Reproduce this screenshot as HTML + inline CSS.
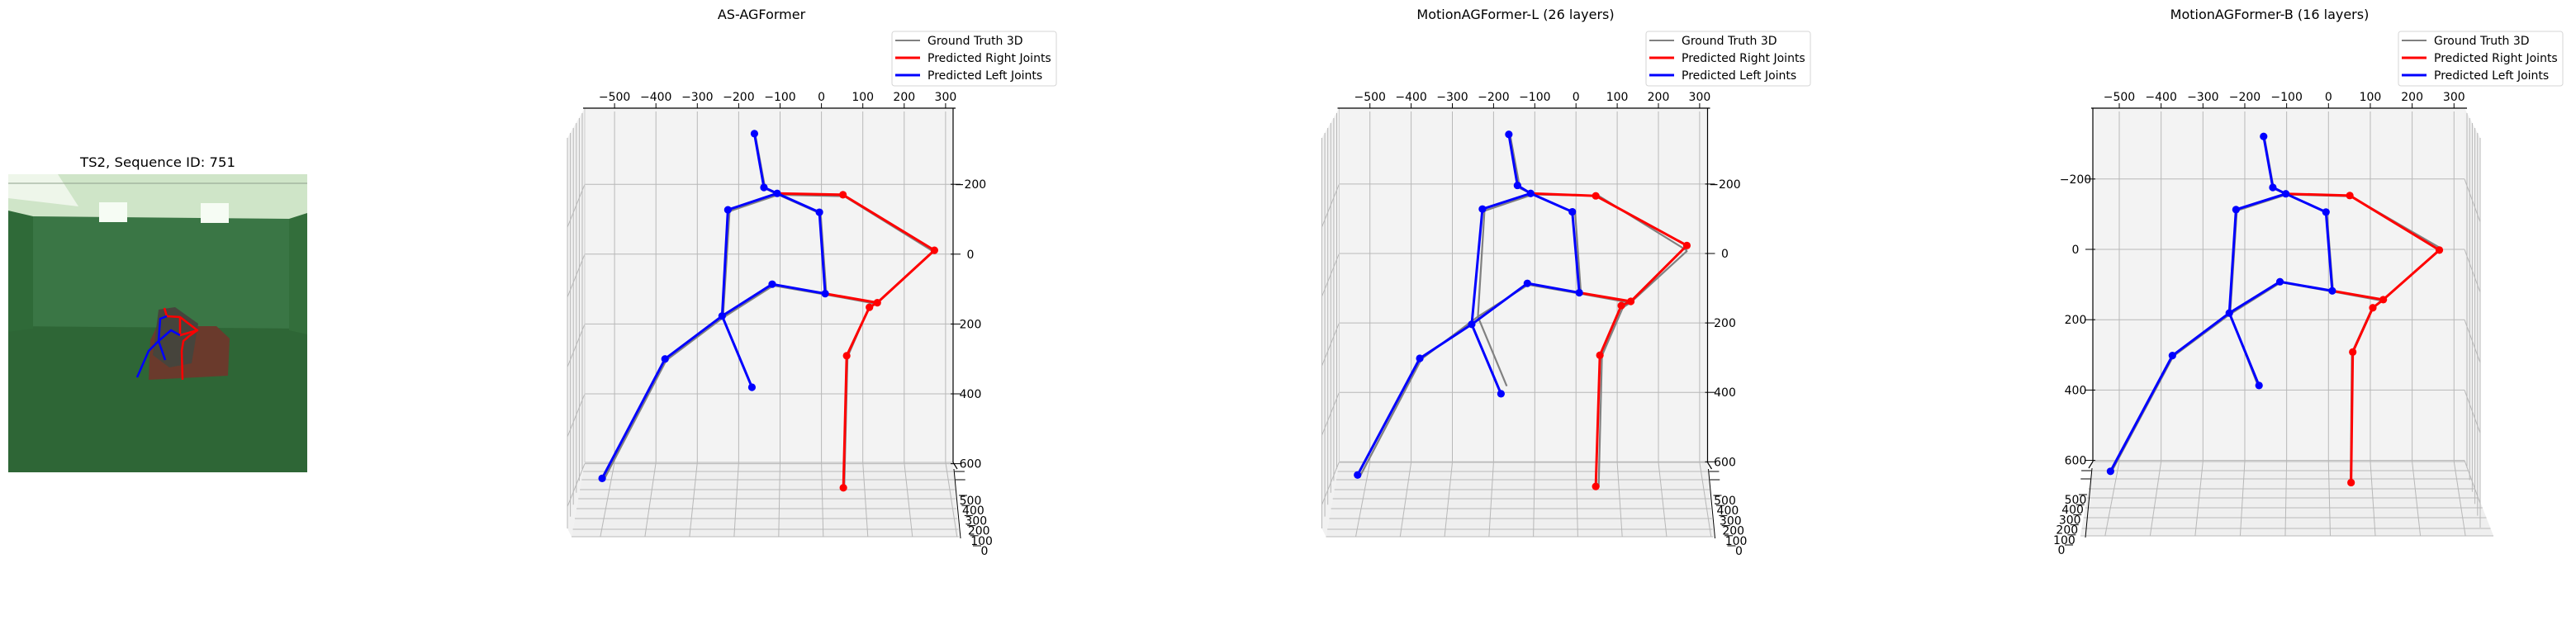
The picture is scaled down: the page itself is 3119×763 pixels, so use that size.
<!DOCTYPE html>
<html><head><meta charset="utf-8"><style>
html,body{margin:0;padding:0;background:#fff;}
svg{display:block;font-family:"DejaVu Sans","Liberation Sans",sans-serif;}
</style></head><body>
<svg id="fig" width="3119" height="763" viewBox="0 0 3119 763" xmlns="http://www.w3.org/2000/svg">
<g id="photo">
<text x="191" y="202" font-size="16" text-anchor="middle" textLength="188" lengthAdjust="spacingAndGlyphs">TS2, Sequence ID: 751</text>
<rect x="10" y="211" width="362" height="361" fill="#356f3e"/>
<polygon points="40,262 350,265 350,400 40,398" fill="#3a7645"/>
<polygon points="10,395 372,398 372,572 10,572" fill="#2e6636"/>
<polygon points="10,255 40,262 40,398 10,402" fill="#2f6a38"/>
<polygon points="350,265 372,258 372,405 350,400" fill="#336e3b"/>
<polygon points="10,211 372,211 372,258 350,265 40,262 10,255" fill="#cfe5c8"/>
<polygon points="10,211 70,211 95,250 10,240" fill="#eef6ea"/>
<rect x="120" y="245" width="34" height="24" fill="#f6fcf4"/>
<rect x="243" y="246" width="34" height="24" fill="#f6fcf4"/>
<line x1="10" y1="222" x2="372" y2="222" stroke="#8fa08c" stroke-width="1"/>
<polygon points="182,412 190,395 262,395 278,410 276,455 180,460" fill="#6a3a2c"/>
<polygon points="192,375 212,372 240,392 232,440 205,445 185,430" fill="#46443c"/>
<g fill="none" stroke-width="2.5" stroke-linejoin="round">
<polyline stroke="#ff0000" points="199,373 202,383 218,384 239,400 229,407"/>
<polyline stroke="#ff0000" points="218,384 218,406 239,400"/>
<polyline stroke="#ff0000" points="229,407 222,413 220,425 221,460"/>
<polyline stroke="#0000ff" points="202,383 194,386 192,413"/>
<polyline stroke="#0000ff" points="192,413 207,400 218,406"/>
<polyline stroke="#0000ff" points="192,413 180,425 166,457"/>
<polyline stroke="#0000ff" points="192,413 200,436"/>
</g>
</g>
<g id="panels"></g>
</svg>
<script>
// Skeleton data (X horizontal mm, Y vertical mm with down positive as plotted)
const bonesLeft = [[0,1],[1,2],[2,3],[3,4],[2,5],[5,6],[6,7],[7,4],[4,8],[8,9],[4,10]];
const bonesRight = [[2,11],[11,12],[12,13],[6,13],[13,14],[14,15],[15,16]];
const gtX = [-160,-136,-104,-222,-238,-2,12,-116,-375,-526,-168,55,270,132,114,63,55];
const gtY = [-342,-188,-170,-123,182,-116,116,90,304,646,382,-166,-8,142,155,294,672];
const gt3X = [-153,-131,-100,-219,-235,-4,11,-114,-371,-519,-170,53,270,128,104,56,53];
const gt3Y = [-318,-173,-156,-110,184,-104,120,94,304,633,383,-151,-2,146,168,294,666];
const p1X = [-162,-139,-107,-226,-240,-5,9,-119,-378,-530,-168,52,273,135,116,61,53];
const p1Y = [-345,-191,-174,-127,177,-120,113,86,300,642,381,-170,-11,139,152,291,669];
const p2X = [-163,-142,-110,-227,-253,-9,8,-118,-379,-530,-182,48,269,133,110,58,48];
const p2Y = [-343,-196,-173,-128,204,-120,113,86,302,638,404,-166,-23,138,150,293,671];
const p3X = [-155,-133,-102,-221,-237,-6,9,-116,-373,-521,-166,51,265,131,106,58,54];
const p3Y = [-321,-176,-158,-113,181,-106,118,92,302,631,387,-153,2,143,166,292,663];
const xTicks = [-500,-400,-300,-200,-100,0,100,200,300];
const yTicks = [-200,0,200,400,600];
const zTicks = ['500','400','300','200','100','0'];
const titles = ['AS-AGFormer','MotionAGFormer-L (26 layers)','MotionAGFormer-B (16 layers)'];
const legendLabels = ['Ground Truth 3D','Predicted Right Joints','Predicted Left Joints'];

const NS='http://www.w3.org/2000/svg';
const root=document.getElementById('panels');
function mk(tag,attrs,parent){const e=document.createElementNS(NS,tag);for(const k in attrs)e.setAttribute(k,attrs[k]);(parent||root).appendChild(e);return e;}

const geoms=[
 {L:708,R:1154,T:131,B:560,FB:650,FL:692,FR:1161,side:'left',outer:687,x0:994.6,sx:0.501,y0:307.8,sy:0.423,title:922,leg:1080},
 {L:1621.5,R:2067.5,T:131,B:560,FB:650,FL:1605.5,FR:2074.5,side:'left',outer:1600.5,x0:1908.2,sx:0.499,y0:307,sy:0.4205,title:1835,leg:1993},
 {L:2534,R:2984,T:131,B:559,FB:649,FL:2519,FR:3019,side:'right',outer:3003,x0:2819.3,sx:0.5066,y0:302,sy:0.426,title:2748,leg:2904}
];
const preds=[[p1X,p1Y],[p2X,p2Y],[p3X,p3Y]];
const gts=[[gtX,gtY],[gtX,gtY],[gt3X,gt3Y]];

geoms.forEach((g,pi)=>{
 const G=mk('g',{});
 
 
 const px=x=>g.x0+x*g.sx, py=y=>g.y0+y*g.sy;
 const grid='#b8b8b8';
 const backWall=mk('rect',{x:g.L,y:g.T,width:g.R-g.L,height:g.B-g.T,fill:'#f3f3f3'},G);
 
 
 let sidePts;
 if(g.side==='left') sidePts=`${g.L},${g.T} ${g.outer},${g.T+36} ${g.outer},${g.FB-10} ${g.FL},${g.FB} ${g.L},${g.B}`;
 else sidePts=`${g.R},${g.T} ${g.outer},${g.T+36} ${g.outer},${g.FB-10} ${g.FR},${g.FB} ${g.R},${g.B}`;
 const side=mk('polygon',{points:sidePts,fill:'#f1f1f1'},G);
 
 
 const floor=mk('polygon',{points:`${g.L},${g.B} ${g.R},${g.B} ${g.FR},${g.FB} ${g.FL},${g.FB}`,fill:'#efefef'},G);
 
 
 for(let i=0;i<6;i++){
  const t=i/5;
  const x= g.side==='left'? g.L-3-(g.L-3-g.outer)*t : g.R+3+(g.outer-g.R-3)*t;
  mk('line',{x1:x,y1:g.T+6+30*t,x2:x,y2:g.B+8+ (g.FB-g.B-18)*t,stroke:grid,'stroke-width':1},G);
 }
 yTicks.forEach(v=>{
  const y=py(v);
  mk('line',{x1:g.L,y1:y,x2:g.R,y2:y,stroke:grid,'stroke-width':1},G);
  const sx0=g.side==='left'?g.L:g.R;
  mk('line',{x1:sx0,y1:y,x2:g.outer,y2:y+52,stroke:grid,'stroke-width':1},G);
 });
 xTicks.forEach(v=>{
  const x=px(v);
  mk('line',{x1:x,y1:g.T+4,x2:x,y2:g.B,stroke:grid,'stroke-width':1},G);
  mk('line',{x1:x,y1:g.B,x2:x+2.2+v*0.0388,y2:g.FB,stroke:grid,'stroke-width':1},G);
 });
 const fl=[0,11,21,33,44,56,68,81,90];
 fl.forEach(d=>{
  const t=d/90;
  const y=g.B+d;
  mk('line',{x1:g.L+(g.FL-g.L)*t,y1:y,x2:g.R+(g.FR-g.R)*t,y2:y,stroke:grid,'stroke-width':1},G);
 });
 mk('line',{x1:g.L,y1:g.T,x2:g.L,y2:g.B,stroke:'#cfcfcf','stroke-width':1},G);
 const xa=mk('g',{},G);
 
 
 mk('line',{x1:g.L-2,y1:g.T,x2:g.R+3,y2:g.T,stroke:'#000','stroke-width':1.2},xa);
 xTicks.forEach(v=>{
  const x=px(v);
  mk('line',{x1:x,y1:g.T,x2:x,y2:g.T-6,stroke:'#000','stroke-width':1},xa);
  const t=mk('text',{x:x,y:g.T-9,'font-size':14,'text-anchor':'middle'},xa);
  
  
  t.textContent=(v<0?'\u2212':'')+Math.abs(v);
 });
 const ya=mk('g',{},G);
 
 
 const axX=g.side==='left'?g.R:g.L;
 const dir=g.side==='left'?1:-1;
 mk('line',{x1:axX,y1:g.T,x2:axX,y2:g.B,stroke:'#000','stroke-width':1.2},ya);
 mk('line',{x1:axX,y1:g.B,x2:axX+dir*5,y2:g.B+8,stroke:'#000','stroke-width':1.2},ya);
 yTicks.forEach(v=>{
  const y=py(v);
  mk('line',{x1:axX-dir*3,y1:y,x2:axX+dir*9,y2:y,stroke:'#000','stroke-width':1},ya);
  const t=mk('text',{x:axX+dir*21,y:y+5,'font-size':14,'text-anchor':'middle'},ya);
  
  
  t.textContent=(v<0?'\u2212':'')+Math.abs(v);
 });
 const za=mk('g',{},G);
 
 
 const zx=g.side==='left'?g.R+1:g.L-1;
 mk('line',{x1:zx,y1:g.B+8,x2:zx+dir*8,y2:g.FB+2,stroke:'#000','stroke-width':1},za);
 [11,21].forEach(d=>mk('line',{x1:zx+dir*(d/12),y1:g.B+d,x2:zx+dir*(d/12+12),y2:g.B+d,stroke:'#000','stroke-width':1},za));
 zTicks.forEach((lab,i)=>{
  const y=g.B+46+i*12.2;
  const x=zx+dir*(20+i*3.4);
  mk('line',{x1:x-dir*14,y1:y-6,x2:x-dir*4,y2:y-6,stroke:'#000','stroke-width':1},za);
  const t=mk('text',{x:x,y:y+5,'font-size':14,'text-anchor':'middle'},za);
  
  
  t.textContent=lab;
 });
 const [GX,GY]=gts[pi];
 const gg=mk('g',{},G);
 
 
 bonesLeft.concat(bonesRight).forEach(b=>{
  const l=mk('line',{x1:px(GX[b[0]]),y1:py(GY[b[0]]),x2:px(GX[b[1]]),y2:py(GY[b[1]]),stroke:'#808080','stroke-width':2.2},gg);
  
  
 });
 const [PX,PY]=preds[pi];
 [[bonesRight,'#ff0000','right'],[bonesLeft,'#0000ff','left']].forEach(([bs,col,nm])=>{
  const sg=mk('g',{},G);
  
  
  bs.forEach(b=>{
   const l=mk('line',{x1:px(PX[b[0]]),y1:py(PY[b[0]]),x2:px(PX[b[1]]),y2:py(PY[b[1]]),stroke:col,'stroke-width':3,'stroke-linecap':'round'},sg);
   
   
  });
  const idx=new Set();bs.forEach(b=>{idx.add(b[0]);idx.add(b[1]);});
  idx.forEach(i=>{
   if(nm==='right'&&(i===2||i===6))return;
   const c=mk('circle',{cx:px(PX[i]),cy:py(PY[i]),r:4.6,fill:col},sg);
   
   
  });
 });
 const tt=mk('text',{x:g.title,y:23,'font-size':16,'text-anchor':'middle'},G);
 
 
 tt.textContent=titles[pi];
 const lg=mk('g',{},G);
 
 
 mk('rect',{x:g.leg,y:38,width:199,height:66,rx:3,fill:'#fff',stroke:'#d6d6d6','stroke-width':1},lg);
 const cols=['#808080','#ff0000','#0000ff'];
 legendLabels.forEach((lab,i)=>{
  const y=49+i*21;
  mk('line',{x1:g.leg+4,y1:y,x2:g.leg+34,y2:y,stroke:cols[i],'stroke-width':i?3:2},lg);
  const t=mk('text',{x:g.leg+43,y:y+5,'font-size':14},lg);
  
  
  t.textContent=lab;
 });
});
</script>
</body></html>
